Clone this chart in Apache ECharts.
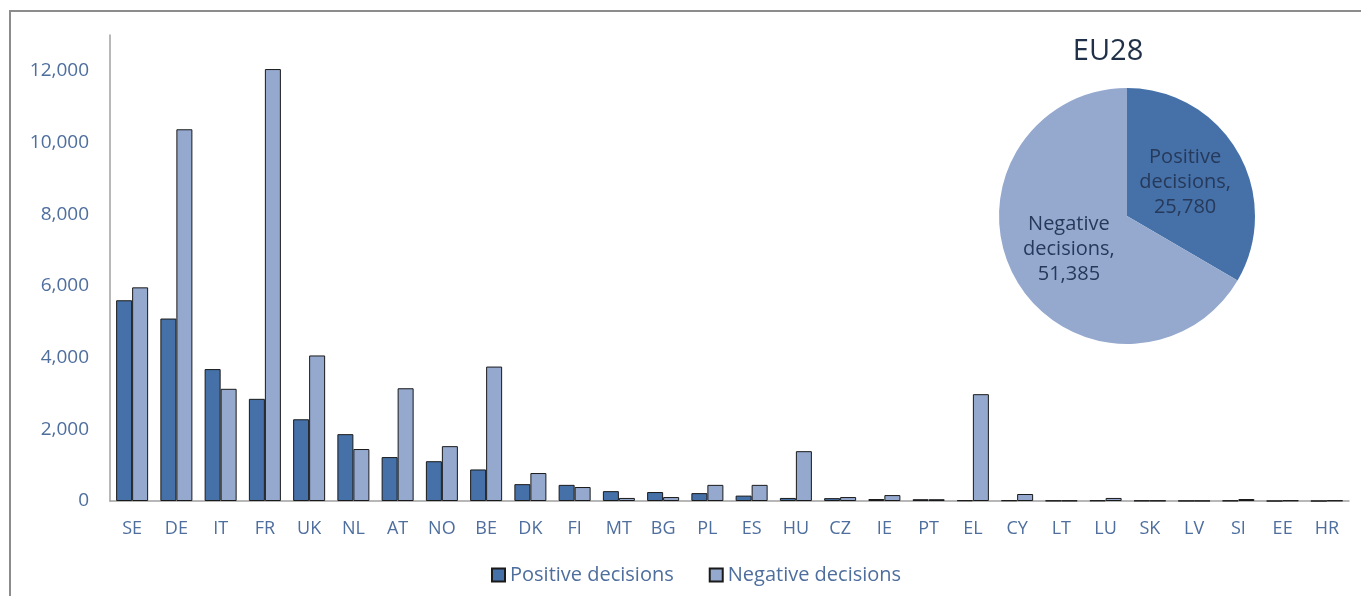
<!DOCTYPE html>
<html>
<head>
<meta charset="utf-8">
<script src="https://cdn.jsdelivr.net/npm/echarts@6/dist/echarts.min.js"></script>
<style>
html,body{margin:0;padding:0;background:#fff;}
#chart{width:1361px;height:596px;}
</style>
</head>
<body>
<div id="chart"></div>
<script>
const categories = ['SE','DE','IT','FR','UK','NL','AT','NO','BE','DK','FI','MT','BG','PL','ES','HU','CZ','IE','PT','EL','CY','LT','LU','SK','LV','SI','EE','HR'];
const positiveDecisions = [5600,5090,3680,2850,2280,1865,1225,1110,880,470,450,275,250,220,150,85,80,55,50,20,20,10,15,10,5,10,0,0];
const negativeDecisions = [5960,10370,3130,12050,4060,1450,3145,1530,3750,780,390,85,110,450,450,1390,110,165,50,2980,195,10,85,10,5,55,15,15];
const yTicks = [0,2000,4000,6000,8000,10000,12000];
const pieTitle = 'EU28';
const pieNames = ['Positive decisions','Negative decisions'];
const pieValues = [25780,51385];

const FONT = '"Open Sans", sans-serif';
const POS = '#4571a8';
const NEG = '#95a9cf';
const LABEL = '#4e6e9e';

const chart = echarts.init(document.getElementById('chart'));
const fmt = v => v.toLocaleString('en-US');

chart.setOption({
  animation: false,
  textStyle: {fontFamily: FONT},
  title: {
    text: pieTitle, left: 1103, top: 32, textAlign: 'center',
    textStyle: {fontFamily: FONT, fontSize: 29, fontWeight: 'normal', color: '#1f3048'}
  },
  graphic: [{
    type: 'rect', z: -1, silent: true,
    shape: {x: 10, y: 11, width: 1400, height: 700},
    style: {fill: 'none', stroke: '#8c8c8c', lineWidth: 2}
  }],
  legend: {
    left: 486, top: 560, itemWidth: 13, itemHeight: 13, itemGap: 35, icon: 'rect',
    data: pieNames,
    textStyle: {fontFamily: FONT, fontSize: 20, color: LABEL}
  },
  grid: {left: 110, right: 12, top: 35, bottom: 95},
  xAxis: {
    type: 'category', data: categories,
    axisLine: {lineStyle: {color: '#a0a0a0', width: 1.5}},
    axisTick: {show: false},
    axisLabel: {fontFamily: FONT, fontSize: 18, color: LABEL, margin: 19, interval: 0}
  },
  yAxis: {
    type: 'value', min: 0, max: 13000, interval: 2000,
    axisLine: {show: true, lineStyle: {color: '#a0a0a0', width: 1.5}},
    axisTick: {show: false},
    splitLine: {show: false},
    axisLabel: {
      fontFamily: FONT, fontSize: 19, color: LABEL, margin: 21,
      formatter: v => yTicks.includes(v) ? fmt(v) : ''
    }
  },
  series: [
    {
      name: pieNames[0], type: 'bar', data: positiveDecisions,
      barWidth: 16, barGap: '0%',
      itemStyle: {color: POS, borderColor: '#1a1a1a', borderWidth: 1}
    },
    {
      name: pieNames[1], type: 'bar', data: negativeDecisions,
      barWidth: 16, barGap: '0%',
      itemStyle: {color: NEG, borderColor: '#1a1a1a', borderWidth: 1}
    },
    {
      type: 'pie', center: [1127, 216], radius: 128, startAngle: 90, clockwise: true,
      legendHoverLink: false,
      data: pieNames.map((n, i) => ({
        name: n, value: pieValues[i],
        itemStyle: {color: i === 0 ? POS : NEG}
      })),
      label: {
        show: true, position: 'inside',
        fontFamily: FONT, fontSize: 20, lineHeight: 25, color: '#26395a',
        formatter: p => p.name.replace(' ', '\n') + ',\n' + fmt(p.value)
      },
      labelLine: {show: false},
      itemStyle: {borderWidth: 0}
    }
  ]
});
</script>
</body>
</html>
